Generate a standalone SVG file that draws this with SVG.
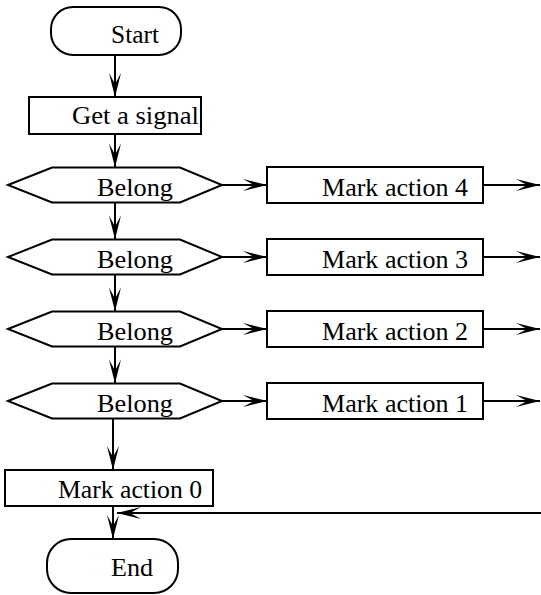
<svg xmlns="http://www.w3.org/2000/svg" width="541" height="595" viewBox="0 0 541 595">
<style>
.s{fill:#fff;stroke:#000;stroke-width:2}
.t{font-family:"Liberation Serif","Times New Roman",serif;font-size:26px;fill:#000}
.c{fill:none;stroke:#000;stroke-width:2}
</style>
<defs>
<marker id="ah" markerUnits="userSpaceOnUse" markerWidth="26" markerHeight="14" refX="24" refY="6" orient="auto" overflow="visible">
<path d="M0,0 L24,6 L0,12 L11,6 Z" fill="#000"/>
</marker>
</defs>
<rect width="541" height="595" fill="#fff"/>
<g id="connectors">
<line class="c" x1="115" y1="55" x2="115" y2="97" marker-end="url(#ah)"/>
<line class="c" x1="115" y1="134" x2="115" y2="167.5" marker-end="url(#ah)"/>
<line class="c" x1="115" y1="202.5" x2="115" y2="239.5" marker-end="url(#ah)"/>
<line class="c" x1="115" y1="274.5" x2="115" y2="311.5" marker-end="url(#ah)"/>
<line class="c" x1="115" y1="346.5" x2="115" y2="383.5" marker-end="url(#ah)"/>
<line class="c" x1="113" y1="418.5" x2="113" y2="470" marker-end="url(#ah)"/>
<line class="c" x1="113" y1="506" x2="113" y2="539" marker-end="url(#ah)"/>
<line class="c" x1="222" y1="185" x2="267" y2="185" marker-end="url(#ah)"/>
<line class="c" x1="222" y1="257" x2="267" y2="257" marker-end="url(#ah)"/>
<line class="c" x1="222" y1="329" x2="267" y2="329" marker-end="url(#ah)"/>
<line class="c" x1="222" y1="401" x2="267" y2="401" marker-end="url(#ah)"/>
<line class="c" x1="483" y1="185" x2="540" y2="185" marker-end="url(#ah)"/>
<line class="c" x1="483" y1="257" x2="540" y2="257" marker-end="url(#ah)"/>
<line class="c" x1="483" y1="329" x2="540" y2="329" marker-end="url(#ah)"/>
<line class="c" x1="483" y1="401" x2="540" y2="401" marker-end="url(#ah)"/>
<line class="c" x1="541" y1="513" x2="117" y2="513" marker-end="url(#ah)"/>
</g>
<g id="start">
<rect class="s" x="51" y="7" width="130" height="48" rx="22" ry="22"/>
<text class="t" x="111" y="43" textLength="48" lengthAdjust="spacingAndGlyphs">Start</text>
</g>
<g id="get-signal">
<rect class="s" x="29" y="97" width="172" height="37"/>
<text class="t" x="72" y="124" textLength="127" lengthAdjust="spacingAndGlyphs">Get a signal</text>
</g>
<g id="belong1">
<polygon class="s" points="8,185 52,167.5 180,167.5 222,185 180,202.5 52,202.5"/>
<text class="t" x="97" y="196" textLength="76" lengthAdjust="spacingAndGlyphs">Belong</text>
</g>
<g id="belong2">
<polygon class="s" points="8,257 52,239.5 180,239.5 222,257 180,274.5 52,274.5"/>
<text class="t" x="97" y="268" textLength="76" lengthAdjust="spacingAndGlyphs">Belong</text>
</g>
<g id="belong3">
<polygon class="s" points="8,329 52,311.5 180,311.5 222,329 180,346.5 52,346.5"/>
<text class="t" x="97" y="340" textLength="76" lengthAdjust="spacingAndGlyphs">Belong</text>
</g>
<g id="belong4">
<polygon class="s" points="8,401 52,383.5 180,383.5 222,401 180,418.5 52,418.5"/>
<text class="t" x="97" y="412" textLength="76" lengthAdjust="spacingAndGlyphs">Belong</text>
</g>
<g id="mark4">
<rect class="s" x="267" y="167" width="216" height="36"/>
<text class="t" x="322" y="196" textLength="146" lengthAdjust="spacingAndGlyphs">Mark action 4</text>
</g>
<g id="mark3">
<rect class="s" x="267" y="239" width="216" height="36"/>
<text class="t" x="322" y="268" textLength="146" lengthAdjust="spacingAndGlyphs">Mark action 3</text>
</g>
<g id="mark2">
<rect class="s" x="267" y="311" width="216" height="36"/>
<text class="t" x="322" y="340" textLength="146" lengthAdjust="spacingAndGlyphs">Mark action 2</text>
</g>
<g id="mark1">
<rect class="s" x="267" y="383" width="216" height="36"/>
<text class="t" x="322" y="412" textLength="146" lengthAdjust="spacingAndGlyphs">Mark action 1</text>
</g>
<g id="mark0">
<rect class="s" x="5" y="470" width="208" height="36"/>
<text class="t" x="58" y="498" textLength="144" lengthAdjust="spacingAndGlyphs">Mark action 0</text>
</g>
<g id="end">
<rect class="s" x="47" y="539" width="131" height="54" rx="24" ry="24"/>
<text class="t" x="111" y="576" textLength="42" lengthAdjust="spacingAndGlyphs">End</text>
</g>
</svg>
